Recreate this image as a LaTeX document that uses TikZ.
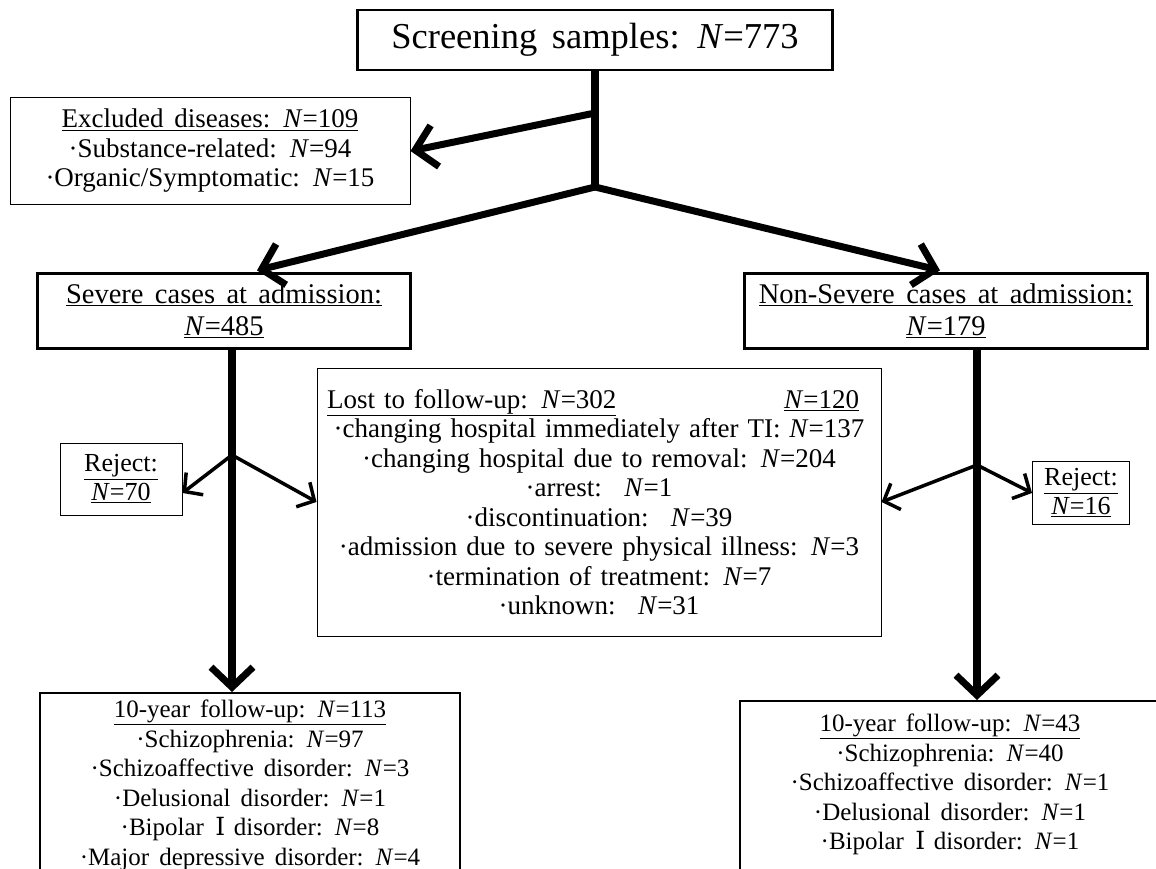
\documentclass[tikz,border=0pt]{standalone}
\usepackage{fontspec}
\setmainfont{Liberation Serif}[WordSpace=1.6]
\newfontfamily\numeralfont{DejaVu Serif}
\usetikzlibrary{calc,arrows.meta}
\newcommand{\Nn}{\textit{N}}
\newcommand{\RomI}{\hspace{0.45em}{\numeralfont Ⅰ}\hspace{0.35em}}
\newcommand{\FontAt}[2]{\fontsize{#1}{#2}\selectfont}

\begin{document}
\begin{tikzpicture}[x=1pt,y=-1pt,
  mainbox/.style={draw,line width=2.2pt,align=center,inner sep=4pt,font=\FontAt{28.5}{32}},
  listbox/.style={draw,line width=1pt,align=center,inner sep=4pt,font=\FontAt{27}{29.5}},
  followbox/.style={draw,line width=2.2pt,align=center,anchor=north,minimum width=420pt,inner xsep=4pt,inner ysep=7pt,font=\FontAt{25}{29.5}},
  bigarrow/.style={line width=8pt,-{Straight Barb[length=20pt,width=42pt,line width=7pt]}},
  thinarrow/.style={line width=3.5pt,-{Straight Barb[length=13pt,width=28pt,line width=3.5pt]}}]
\useasboundingbox (0,0) rectangle (1156,869);
\clip (0,0) rectangle (1156,869);
% boxes
\node[mainbox,minimum width=475pt,minimum height=60pt,font=\FontAt{36.5}{40}] (screen) at (595,40) {Screening samples: \Nn=773};
\node[listbox,minimum width=400pt,minimum height=107pt] (excl) at (210,151)
  {\underline{Excluded diseases: \Nn=109}\\ ·Substance-related: \Nn=94\\ ·Organic/Symptomatic: \Nn=15};
\node[mainbox,minimum width=373pt,minimum height=75pt] (severe) at (224,311)
  {\underline{Severe cases at admission:}\\ \underline{\Nn=485}};
\node[mainbox,minimum width=403pt,minimum height=75pt] (nonsevere) at (946,311)
  {\underline{Non-Severe cases at admission:}\\ \underline{\Nn=179}};
\node[listbox,minimum width=122pt,minimum height=72pt,font=\FontAt{26}{29}] (rejectL) at (121,479)
  {\underline{Reject:}\\ \underline{\Nn=70}};
\node[listbox,minimum width=97pt,minimum height=63pt,font=\FontAt{26}{29}] (rejectR) at (1081,493)
  {\underline{Reject:}\\ \underline{\Nn=16}};
\node[listbox,text width=556pt,minimum height=268pt] (lost) at (599,502)
  {\makebox[\linewidth]{\hspace{6pt}\underline{Lost to follow-up: \Nn=302}\hfill\underline{\Nn=120}\hspace{18pt}}\\
   ·changing hospital immediately after TI: \Nn=137\\
   ·changing hospital due to removal: \Nn=204\\
   ·arrest: \ \Nn=1\\
   ·discontinuation: \ \Nn=39\\
   ·admission due to severe physical illness: \Nn=3\\
   ·termination of treatment: \Nn=7\\
   ·unknown: \ \Nn=31};
\node[followbox] (followL) at (250,692)
  {\underline{10-year follow-up: \Nn=113}\\ ·Schizophrenia: \Nn=97\\ ·Schizoaffective disorder: \Nn=3\\
   ·Delusional disorder: \Nn=1\\ ·Bipolar\RomI disorder: \Nn=8\\ ·Major depressive disorder: \Nn=4\\ \mbox{}};
\node[followbox,inner ysep=13pt] (followR) at (950,700)
  {\underline{10-year follow-up: \Nn=43}\\ ·Schizophrenia: \Nn=40\\ ·Schizoaffective disorder: \Nn=1\\
   ·Delusional disorder: \Nn=1\\ ·Bipolar\RomI disorder: \Nn=1\\ \mbox{}};
% forks
\coordinate (forkTop) at (595,187);
\coordinate (sideTop) at (595,113);
\coordinate (forkL) at (232,455);
\coordinate (forkR) at (977,465);
% connectors
\draw[line width=8pt] (screen.south) -- (forkTop);
\draw[bigarrow,line width=7pt] (sideTop) -- (excl.east);
\draw[bigarrow,line width=7pt] (forkTop) -- ($(severe.north)+(33,-2)$);
\draw[bigarrow,line width=7pt] (forkTop) -- ($(nonsevere.north)+(-6,-2)$);
\draw[bigarrow] (severe.south -| forkL) -- (followL.north -| forkL);
\draw[bigarrow] (nonsevere.south -| forkR) -- (followR.north -| forkR);
\draw[thinarrow] (forkL) -- ($(rejectL.east)+(0,14)$);
\draw[thinarrow] (forkL) -- (lost.west);
\draw[thinarrow] (forkR) -- (lost.east);
\draw[thinarrow] (forkR) -- (rejectR.west);
\end{tikzpicture}
\end{document}
